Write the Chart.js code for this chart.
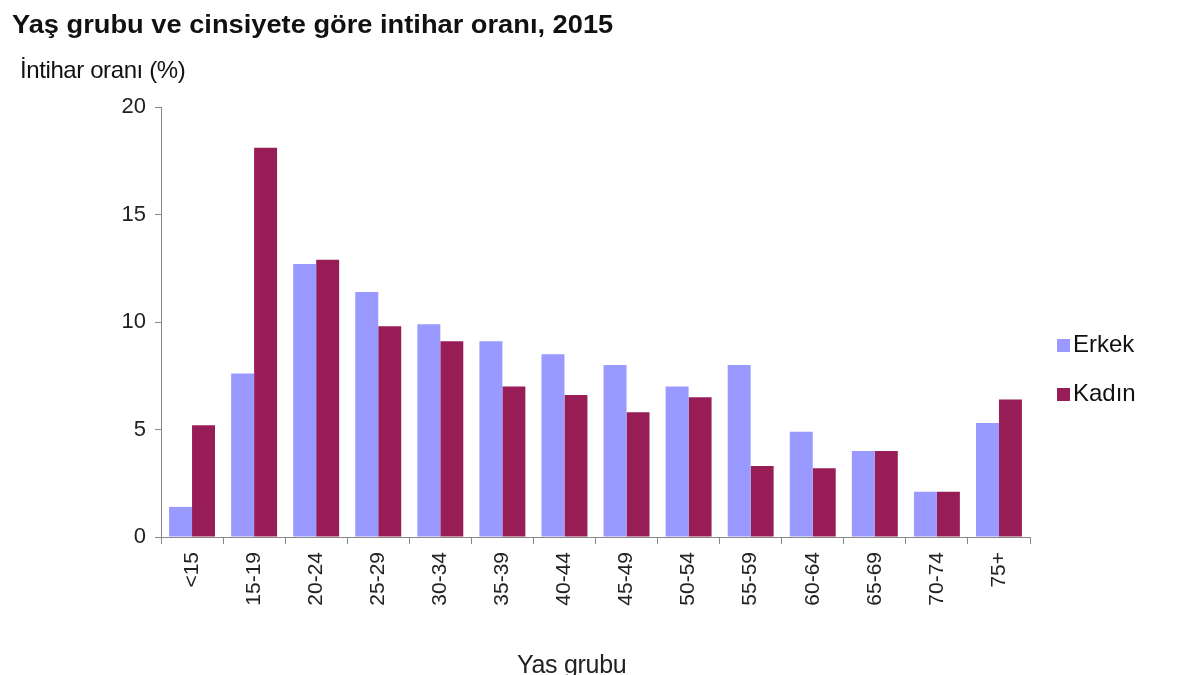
<!DOCTYPE html>
<html>
<head>
<meta charset="utf-8">
<script src="https://cdn.jsdelivr.net/npm/chart.js@4.4.1/dist/chart.umd.min.js"></script>
<style>
  body { margin:0; background:#fff; }
  #wrap { position:relative; width:1200px; height:675px; overflow:hidden; }
  canvas { position:absolute; left:0; top:0; }
  .txt { position:absolute; white-space:nowrap; color:#111; font-family:"Liberation Sans", Arial, sans-serif; line-height:28px; }
  #title { left:12px; top:10px; font-size:25px; font-weight:bold; transform:scaleX(1.09); transform-origin:left top; }
  #ytitle { left:20px; top:56px; font-size:24px; letter-spacing:-0.4px; }
  #xtitle { left:517px; top:650px; font-size:25px; letter-spacing:-0.3px; color:#222; }
  .sq { position:absolute; left:1057px; width:13px; height:13px; }
  .leg { position:absolute; left:1073px; font-size:24px; font-family:"Liberation Sans", Arial, sans-serif; color:#111; line-height:28px; }
</style>
</head>
<body>
<div id="wrap">
  <canvas id="mycanvas" width="1200" height="675"></canvas>
  <div class="txt" id="title">Yaş grubu ve cinsiyete göre intihar oranı, 2015</div>
  <div class="txt" id="ytitle">İntihar oranı (%)</div>
  <div class="txt" id="xtitle">Yas grubu</div>
  <div class="sq" style="top:339px;background:#9999ff"></div>
  <div class="leg" style="top:330px">Erkek</div>
  <div class="sq" style="top:388px;background:#981c56"></div>
  <div class="leg" style="top:379px">Kadın</div>
</div>
<script>
var ageGroups = ["<15","15-19","20-24","25-29","30-34","35-39","40-44","45-49","50-54","55-59","60-64","65-69","70-74","75+"];
var erkek = [1.4, 7.6, 12.7, 11.4, 9.9, 9.1, 8.5, 8.0, 7.0, 8.0, 4.9, 4.0, 2.1, 5.3];
var kadin = [5.2, 18.1, 12.9, 9.8, 9.1, 7.0, 6.6, 5.8, 6.5, 3.3, 3.2, 4.0, 2.1, 6.4];
var yTicks = [0, 5, 10, 15, 20];

var ctx = document.getElementById("mycanvas");
var chart = new Chart(ctx, {
  type: "bar",
  data: {
    labels: ageGroups,
    datasets: [
      { label: "Erkek", data: erkek, backgroundColor: "#9999ff", categoryPercentage: 0.74, barPercentage: 1.0 },
      { label: "Kadın", data: kadin, backgroundColor: "#981c56", categoryPercentage: 0.74, barPercentage: 1.0 }
    ]
  },
  options: {
    responsive: false,
    animation: false,
    layout: { padding: { top: 107, right: 170, bottom: 0, left: 0 } },
    plugins: {
      legend: { display: false },
      tooltip: { enabled: false }
    },
    scales: {
      x: {
        grid: { display: true, drawOnChartArea: false, drawTicks: true, tickLength: 7, color: "#888" },
        border: { color: "#888", width: 1 },
        ticks: {
          minRotation: 90, maxRotation: 90, padding: 8,
          color: "#222", font: { family: "Liberation Sans", size: 21 }
        },
        afterFit: function(s) { s.height = 138; }
      },
      y: {
        min: 0, max: 20,
        afterBuildTicks: function(s) { s.ticks = yTicks.map(function(v){ return { value: v }; }); },
        grid: { display: true, drawOnChartArea: false, drawTicks: true, tickLength: 6, color: "#888" },
        border: { color: "#888", width: 1 },
        ticks: { padding: 9, color: "#222", font: { family: "Liberation Sans", size: 22 } },
        afterFit: function(s) { s.width = 161; }
      }
    }
  }
});
</script>
</body>
</html>
